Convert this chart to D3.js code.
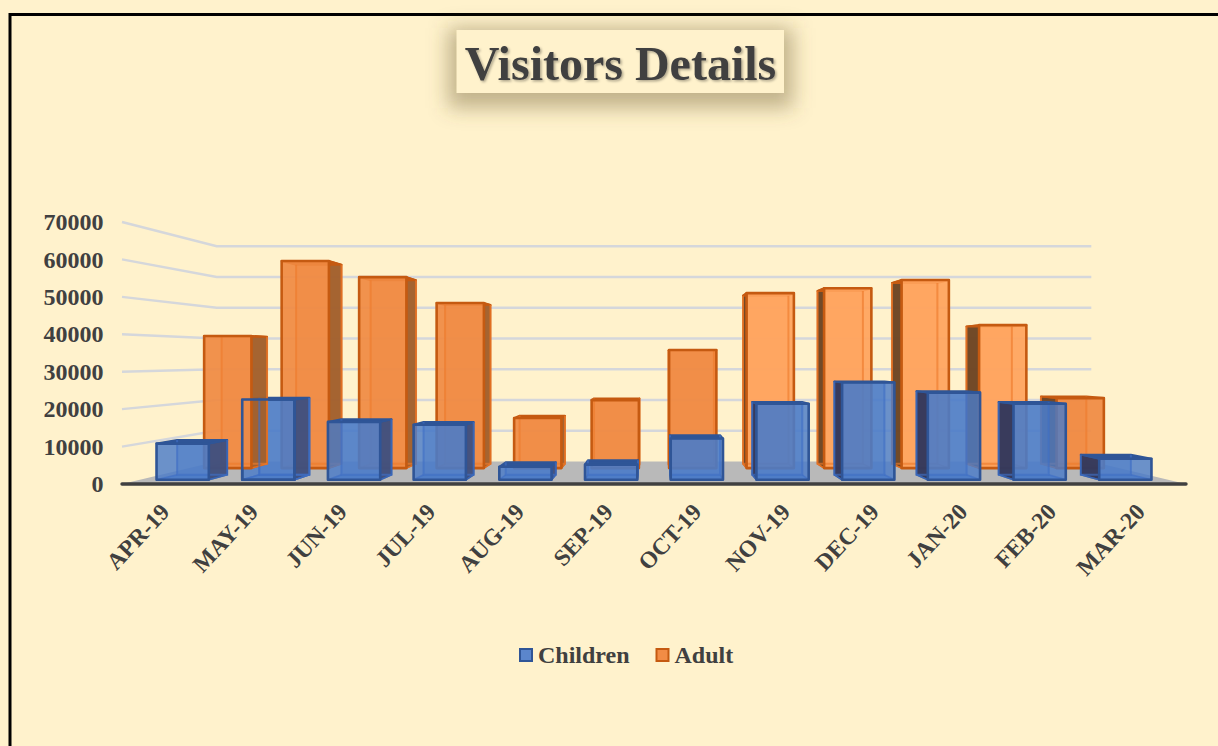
<!DOCTYPE html>
<html><head><meta charset="utf-8">
<script src="https://cdn.jsdelivr.net/npm/d3@7"></script>
<style>
html,body{margin:0;padding:0;background:#FFF2CC;overflow:hidden}
svg{display:block}
text{font-family:"Liberation Serif",serif;font-weight:bold;fill:#404040}
</style></head><body>
<svg id="c" width="1218" height="746"></svg>
<script>
const months = ["APR-19","MAY-19","JUN-19","JUL-19","AUG-19","SEP-19","OCT-19","NOV-19","DEC-19","JAN-20","FEB-20","MAR-20"];
const children = [10000,22200,16000,15200,3600,4200,11400,21000,26900,24100,21000,5800];
const adult = [40400,63300,58400,50500,15300,20800,36100,53500,55000,57500,43700,21400];
const yTicks = [0,10000,20000,30000,40000,50000,60000,70000];
const seriesNames = ["Children","Adult"];

const W=1218,H=746;
const svg=d3.select("#c");
const defs=svg.append("defs");
const f=defs.append("filter").attr("id","boxShadow").attr("x","-20%").attr("y","-60%").attr("width","140%").attr("height","220%");
f.append("feGaussianBlur").attr("stdDeviation",10);
const t=defs.append("filter").attr("id","txtShadow").attr("x","-5%").attr("y","-10%").attr("width","110%").attr("height","130%");
t.append("feDropShadow").attr("dx",1.5).attr("dy",1.5).attr("stdDeviation",1.2).attr("flood-color","#000").attr("flood-opacity",.32);

svg.append("rect").attr("width",W).attr("height",H).attr("fill","#FFF2CC");
svg.append("path").attr("d",`M10,${H+5}V14.5H${W+5}`).attr("fill","none").attr("stroke","#000").attr("stroke-width",3);

// scales on the front plane of the 3D box
const x=d3.scaleBand().domain(months).range([122,1186]).paddingInner(.39).paddingOuter(.195);
const y=d3.scaleLinear().domain([0,70000]).range([484,222]);
const vx=654,vy=358;
const px=(X,s)=>vx+(X-vx)*s, py=(Y,s)=>vy+(Y-vy)*s;
const BACK=.822;

const pt=(X,Y,s)=>[px(X,s),py(Y,s)];
const line=d3.line();
svg.append("path").attr("fill","#B9B9B9").attr("d",line([pt(122,y(0),1),pt(1186,y(0),1),pt(1186,y(0),BACK),pt(122,y(0),BACK)])+"Z");
svg.append("g").selectAll("path").data(yTicks.slice(1)).join("path")
 .attr("fill","none").attr("stroke","#D5D7DB").attr("stroke-width",2.4)
 .attr("d",v=>line([pt(122,y(v),1),pt(122,y(v),BACK),pt(1186,y(v),BACK)]));

const face=(a,b,c2,d)=>line([a,b,c2,d])+"Z";
function corners(name,v,sF,sB){
  const X0=x(name),X1=X0+x.bandwidth(),Yt=y(v),Yb=y(0);
  return {mid:X0+x.bandwidth()/2,Yt,Yb,
    lf:Y=>pt(X0,Y,sF),rf:Y=>pt(X1,Y,sF),lb:Y=>pt(X0,Y,sB),rb:Y=>pt(X1,Y,sB)};
}
function outline(g,name,v,sF,sB,c){
  const {Yt,Yb,lf,rf,lb,rb}=corners(name,v,sF,sB);
  // back edges seen through the front face
  g.append("path").attr("d",line([lb(Yt),lb(Yb),rb(Yb),rb(Yt)])).attr("fill","none").attr("stroke",c.inner).attr("stroke-width",2).attr("stroke-opacity",.65);
  g.append("path").attr("d",line([lf(Yb),lb(Yb)])+line([rf(Yb),rb(Yb)])).attr("fill","none").attr("stroke",c.inner).attr("stroke-width",1.5).attr("stroke-opacity",.65);
  g.append("path").attr("d",face(lf(Yt),rf(Yt),rf(Yb),lf(Yb))).attr("fill","none").attr("stroke",c.stroke).attr("stroke-width",2.6).attr("stroke-linejoin","round");
}
function bar(g,name,v,sF,sB,c){
  const {mid,Yt,Yb,lf,rf,lb,rb}=corners(name,v,sF,sB);
  const leftSide=mid<vx;
  const front=c.front(mid);
  g.append("path").attr("d",face(lb(Yt),rb(Yt),rb(Yb),lb(Yb))).attr("fill",front).attr("fill-opacity",.45);
  g.append("path").attr("d",face(lf(Yb),rf(Yb),rb(Yb),lb(Yb))).attr("fill",c.bottom).attr("fill-opacity",.8);
  const side=leftSide?face(rf(Yt),rb(Yt),rb(Yb),rf(Yb)):face(lf(Yt),lb(Yt),lb(Yb),lf(Yb));
  g.append("path").attr("d",side).attr("fill",leftSide?c.sideL:c.sideR).attr("fill-opacity",.95).attr("stroke",c.stroke).attr("stroke-width",1.6).attr("stroke-linejoin","round");
  g.append("path").attr("d",face(lf(Yt),rf(Yt),rb(Yt),lb(Yt))).attr("fill",c.stroke).attr("stroke",c.stroke).attr("stroke-width",2).attr("stroke-linejoin","round");
  g.append("path").attr("d",face(lf(Yt),rf(Yt),rf(Yb),lf(Yb))).attr("fill",front).attr("fill-opacity",c.op);
  outline(g,name,v,sF,sB,c);
}
const adultStyle={front:m=>m>700&&m<1100?"#FFA35C":"#F08A42",inner:"#EE7B2C",bottom:"#F08A40",sideL:"#A05F2C",sideR:"#6A4222",stroke:"#C55A11",op:.92};
const childStyle={front:m=>"#4A7BC8",inner:"#3F6FC4",bottom:"#4A78C4",sideL:"#404F7C",sideR:"#33375A",stroke:"#2F5597",op:.82};
const A=[.874,.84],C=[.9665,.9265];

const gB=svg.append("g");
months.forEach((m,i)=>{ if(i!==0) bar(gB,m,adult[i],A[0],A[1],adultStyle); });
// the reference stacks the first adult bar over the second children bar
bar(gB,months[1],children[1],C[0],C[1],childStyle);
bar(gB,months[0],adult[0],A[0],A[1],adultStyle);
outline(gB,months[1],children[1],C[0],C[1],childStyle);
months.forEach((m,i)=>{ if(i!==1) bar(gB,m,children[i],C[0],C[1],childStyle); });

svg.append("line").attr("x1",122).attr("x2",1186).attr("y1",y(0)).attr("y2",y(0)).attr("stroke","#404040").attr("stroke-width",3.4).attr("stroke-linecap","round");

const ax=svg.append("g").attr("transform","translate(103.5,0)").call(d3.axisLeft(y).tickValues(yTicks).tickSize(0).tickPadding(0).tickFormat(d3.format("d")));
ax.select(".domain").remove();
ax.selectAll("text").attr("font-size",24).attr("dy",".32em").style("font-family",'"Liberation Serif",serif');
const bx=svg.append("g").attr("transform",`translate(0,${y(0)})`).call(d3.axisBottom(x).tickSize(0).tickPadding(0));
bx.select(".domain").remove();
bx.selectAll("text").attr("font-size",23.5).attr("text-anchor","end").attr("dy",0).attr("y",0)
  .attr("transform","translate(4.5,29) rotate(-47)").style("font-family",'"Liberation Serif",serif');

const lg=svg.append("g");
const lgX=[520,656.5],lgC=[childStyle,adultStyle],lgF=["#5B86CC","#F28C45"];
seriesNames.forEach((n,i)=>{
  lg.append("rect").attr("x",lgX[i]).attr("y",649).attr("width",12).attr("height",12)
    .attr("fill",lgF[i]).attr("stroke",lgC[i].stroke).attr("stroke-width",2);
  lg.append("text").attr("x",lgX[i]+18).attr("y",663).attr("font-size",24).text(n);
});

const tg=svg.append("g");
tg.append("rect").attr("x",448).attr("y",28).attr("width",345).attr("height",80).attr("fill","#6b5a2a").attr("fill-opacity",.42).attr("filter","url(#boxShadow)");
tg.append("rect").attr("x",456.5).attr("y",30).attr("width",327.5).attr("height",63).attr("fill","#FFF2CC");
tg.append("text").attr("x",620.5).attr("y",80).attr("text-anchor","middle").attr("font-size",48).attr("filter","url(#txtShadow)").text("Visitors Details");
</script></body></html>
